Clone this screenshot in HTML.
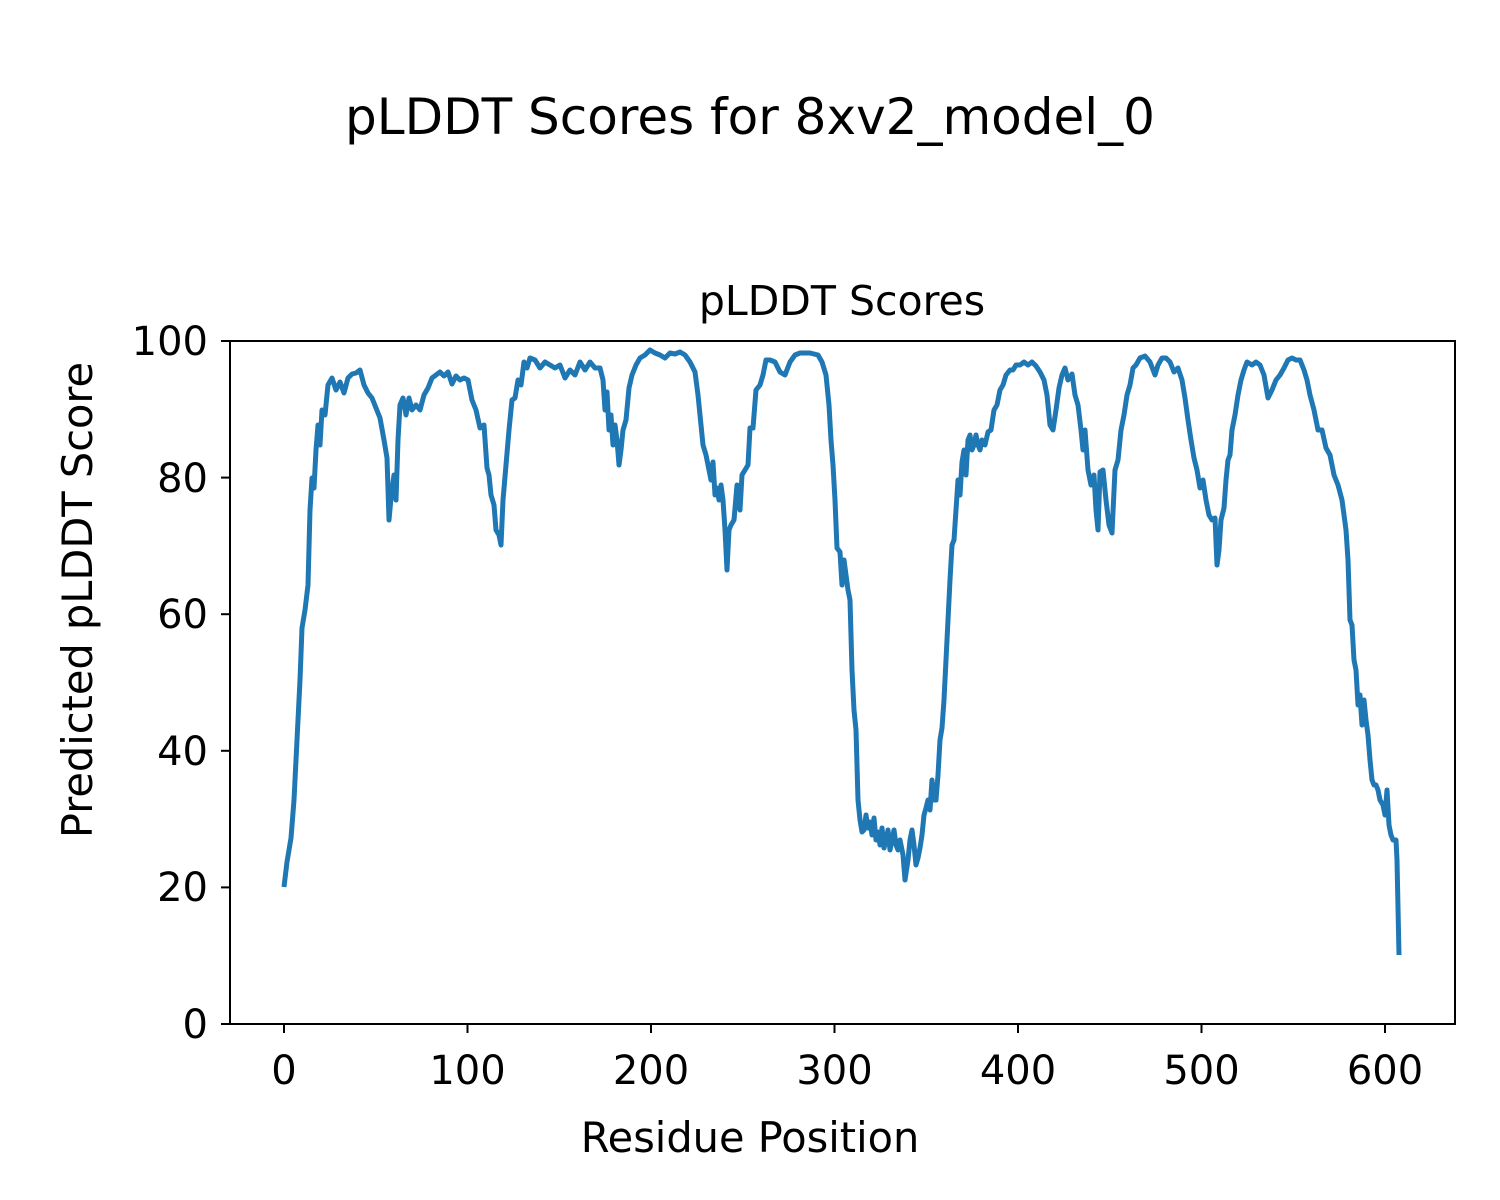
<!DOCTYPE html>
<html><head><style>body{margin:0;background:#fff}svg{display:block}text{font-family:"DejaVu Sans","Liberation Sans",sans-serif;fill:#000}</style></head>
<body>
<svg width="1500" height="1200" xmlns="http://www.w3.org/2000/svg">
<rect width="1500" height="1200" fill="#fff"/>
<text x="750" y="134" font-size="50" text-anchor="middle">pLDDT Scores for 8xv2_model_0</text>
<text x="842" y="315" font-size="41" text-anchor="middle">pLDDT Scores</text>
<polyline fill="none" stroke="#1f77b4" stroke-width="5" stroke-linejoin="round" points="284,887 287,862 291,838 294,800 297,740 300,680 302,628 305,610 308,585 310,510 312,478 314,488 316,450 318,425 320,445 322,410 325,415 328,385 332,378 336,390 340,382 344,393 348,378 352,374 356,373 360,370 364,385 368,393 372,398 376,408 380,418 384,440 387,458 389,520 391,498 394,475 396,500 398,440 400,405 403,398 406,415 409,398 412,410 416,405 420,410 424,395 428,388 432,378 436,375 440,372 444,376 448,372 452,384 456,376 460,380 464,378 468,380 472,400 476,410 480,428 484,425 487,468 489,475 491,495 494,505 496,530 499,535 501,545 503,500 506,465 509,430 512,400 515,398 518,380 521,385 524,362 527,368 530,358 535,360 540,368 545,362 550,365 555,368 560,365 565,378 570,370 575,375 580,362 585,370 590,362 595,368 600,368 603,380 605,410 607,392 609,430 611,415 613,445 615,425 617,440 619,465 621,450 623,430 626,420 629,388 632,375 636,365 640,358 645,355 650,350 655,353 660,355 665,358 670,353 675,354 680,352 685,355 690,362 695,372 698,395 700,415 703,445 706,455 709,470 711,480 713,462 715,495 717,488 719,500 721,485 723,500 725,530 727,570 729,530 731,525 734,520 737,485 740,510 742,475 745,470 748,465 750,428 753,428 756,390 760,385 763,375 766,360 770,360 775,362 780,372 785,375 790,362 795,355 800,353 810,353 818,355 822,362 826,375 829,405 831,440 833,465 835,500 837,548 840,552 842,585 844,560 846,575 848,590 850,600 852,670 854,710 856,730 858,800 860,820 862,832 864,830 866,815 868,828 870,822 872,835 874,818 876,840 878,832 880,845 882,828 884,848 886,840 888,830 890,850 892,840 894,830 896,845 898,850 900,840 903,855 905,880 908,860 910,840 912,830 914,845 916,865 918,858 920,848 922,835 924,815 926,808 928,800 930,810 932,780 934,800 936,800 938,775 940,740 942,728 944,700 946,660 948,620 950,580 952,545 954,540 956,510 958,480 960,495 962,462 964,450 966,475 968,440 970,435 972,450 974,445 976,435 978,445 980,450 982,440 985,445 988,432 991,430 994,410 997,405 1000,390 1003,385 1006,375 1010,370 1013,370 1016,365 1020,365 1024,362 1028,365 1032,362 1036,366 1040,372 1044,380 1047,395 1050,425 1053,430 1056,410 1059,388 1062,375 1065,368 1068,380 1072,374 1075,395 1078,405 1081,430 1083,450 1085,430 1088,470 1091,485 1094,475 1096,510 1098,530 1100,472 1103,470 1106,500 1109,525 1112,533 1115,470 1118,460 1121,430 1124,415 1127,395 1130,385 1133,368 1136,365 1140,358 1145,356 1150,362 1155,375 1158,365 1162,358 1166,358 1170,362 1174,372 1178,368 1182,380 1185,398 1188,420 1191,440 1194,458 1197,470 1200,488 1203,480 1206,500 1209,515 1212,520 1215,518 1217,565 1219,550 1221,520 1224,508 1226,480 1228,460 1230,455 1232,430 1235,415 1238,395 1241,380 1244,370 1247,362 1252,365 1256,362 1260,365 1264,375 1268,398 1272,390 1276,380 1280,375 1284,368 1288,360 1292,358 1296,360 1300,360 1304,370 1307,380 1310,395 1314,410 1318,430 1322,430 1326,448 1330,455 1334,475 1338,485 1342,500 1346,530 1348,560 1350,620 1352,625 1354,660 1356,670 1358,705 1360,695 1362,725 1364,700 1366,720 1368,735 1370,760 1372,780 1374,785 1376,785 1378,790 1380,800 1383,805 1385,815 1387,790 1389,825 1391,835 1393,840 1396,840 1397,860 1399,955"/>
<rect x="230" y="341" width="1225" height="683" fill="none" stroke="#000" stroke-width="2"/>
<g stroke="#000" stroke-width="2">
<line x1="284" y1="1024" x2="284" y2="1033"/><line x1="467.5" y1="1024" x2="467.5" y2="1033"/><line x1="651" y1="1024" x2="651" y2="1033"/><line x1="834.5" y1="1024" x2="834.5" y2="1033"/><line x1="1018" y1="1024" x2="1018" y2="1033"/><line x1="1201.5" y1="1024" x2="1201.5" y2="1033"/><line x1="1385" y1="1024" x2="1385" y2="1033"/>
<line x1="221" y1="1024" x2="230" y2="1024"/><line x1="221" y1="887.4" x2="230" y2="887.4"/><line x1="221" y1="750.8" x2="230" y2="750.8"/><line x1="221" y1="614.2" x2="230" y2="614.2"/><line x1="221" y1="477.6" x2="230" y2="477.6"/><line x1="221" y1="341" x2="230" y2="341"/>
</g>
<g font-size="40" text-anchor="middle">
<text x="284" y="1084">0</text><text x="467.5" y="1084">100</text><text x="651" y="1084">200</text><text x="834.5" y="1084">300</text><text x="1018" y="1084">400</text><text x="1201.5" y="1084">500</text><text x="1385" y="1084">600</text>
</g>
<g font-size="40" text-anchor="end">
<text x="208" y="1038">0</text><text x="208" y="901">20</text><text x="208" y="765">40</text><text x="208" y="628">60</text><text x="208" y="492">80</text><text x="208" y="355">100</text>
</g>
<text x="750" y="1152" font-size="41.5" text-anchor="middle">Residue Position</text>
<text transform="translate(92,600) rotate(-90)" font-size="41.5" text-anchor="middle">Predicted pLDDT Score</text>
</svg>
</body></html>
